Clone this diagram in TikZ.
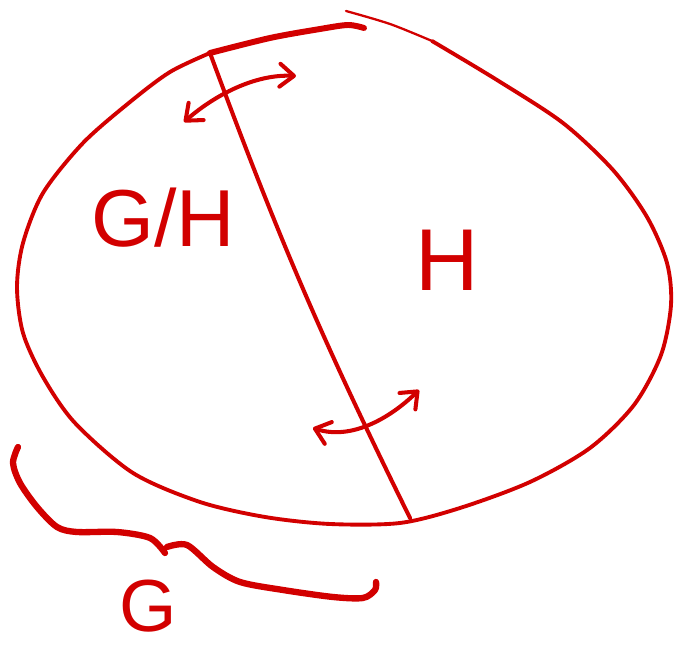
\documentclass[tikz,border=0pt]{standalone}
\usepackage{fontspec}
\setmainfont{Liberation Sans}
\usetikzlibrary{arrows.meta}
\definecolor{pen}{RGB}{210,0,0}
\tikzset{
  blob/.style={draw=pen,line width=2.2pt,line cap=round,line join=round},
  rim/.style={draw=pen,line width=3.4pt,line cap=round},
  fine/.style={draw=pen,line width=1.3pt,line cap=round},
  cutline/.style={draw=pen,line width=2.3pt,line cap=round},
  swing/.style={draw=pen,line width=2.3pt,line cap=round,
    {Straight Barb[length=8pt,width=13pt,round]}-{Straight Barb[length=8pt,width=13pt,round]}},
  brace/.style={draw=pen,line width=3.6pt,line cap=round,line join=round},
  letter/.style={text=pen,inner sep=0pt}
}

\begin{document}
\begin{tikzpicture}[x=0.02cm,y=-0.02cm]
  \useasboundingbox (0,0) rectangle (681,651);

  \coordinate (top) at (210,53);
  \coordinate (bot) at (410,518);

  % the group G
  \draw[fine] plot[smooth] coordinates {(346,11) (390,24) (432,41)};
  \draw[blob] plot[smooth] coordinates {(432,41) (497,80) (563,123) (613,170)
    (647,217) (667,263) (671,305) (661,355) (634,405) (590,448) (530,482)
    (460,508) (400,523) (330,524) (265,517) (200,502) (133,473)
    (75,423) (43,377) (23,333) (17,287) (23,243) (43,193) (83,143) (130,102)
    (170,72) (top)};
  \draw[rim] plot[smooth] coordinates {(top) (270,38) (320,29) (348,25) (364,28)};

  % the cut between the two parts
  \draw[cutline] (top) to[bend right=3] (bot);

  % the two swings
  \draw[swing] (184,122) .. controls (215,95) and (255,74) .. (296,76);
  \draw[swing] (313,428) .. controls (350,440) and (388,420) .. (419,390);

  % brace under the group
  \draw[brace] plot[smooth] coordinates {(18,447) (13,463) (20,483) (37,507)
    (57,527) (77,532) (117,532) (150,538) (165,553)};
  \draw[brace] plot[smooth] coordinates {(167,547) (187,545) (213,567) (240,582)
    (283,590) (333,597) (363,598) (375,590) (376,582)};

  \node[letter,font=\fontsize{46}{46}\selectfont] (quot) at (163,218) {G/H};
  \node[letter,font=\fontsize{50}{50}\selectfont] (sub) at (447,260) {H};
  \node[letter,font=\fontsize{42}{42}\selectfont] (whole) at (148,606) {G};
\end{tikzpicture}
\end{document}
